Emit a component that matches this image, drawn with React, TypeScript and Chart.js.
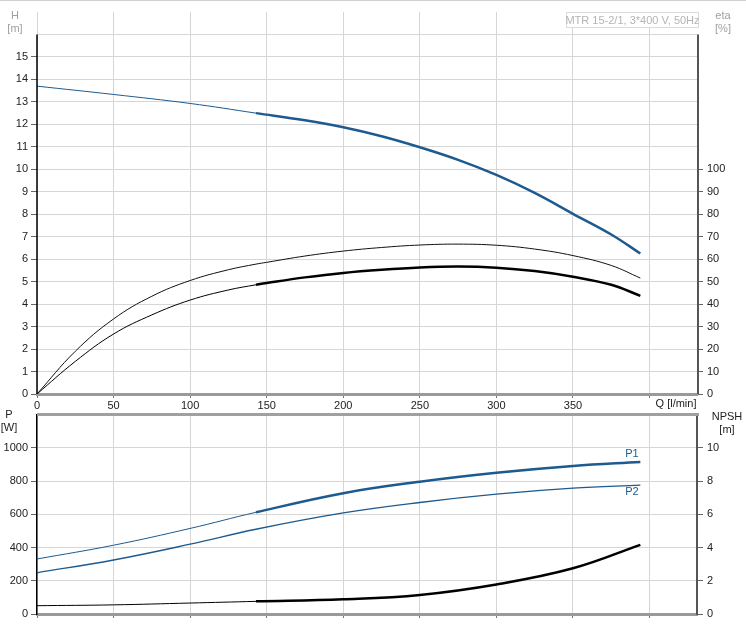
import React, { useEffect, useRef } from "react";
import { Chart, registerables } from "chart.js";

Chart.register(...registerables);

// ---------- Data ----------
const qH = [0, 50, 100, 143, 175, 200, 225, 250, 275, 300, 325, 350, 375, 394];
const headH = [13.7, 13.33, 12.93, 12.5, 12.18, 11.87, 11.47, 10.98, 10.42, 9.75, 8.95, 8.02, 7.1, 6.25];

const qEta = [0, 25, 50, 75, 100, 125, 143, 150, 175, 200, 225, 250, 275, 300, 325, 350, 375, 394];
const etaUpper = [0, 19, 33.4, 43.5, 50.5, 55.3, 57.8, 58.6, 61.4, 63.6, 65.2, 66.3, 66.7, 66.2, 64.5, 61.6, 57.2, 51.6];
const etaLower = [0, 14.5, 26.7, 35.2, 41.8, 46.3, 48.6, 49.4, 51.9, 53.9, 55.3, 56.3, 56.7, 56.2, 54.7, 52.2, 48.6, 43.7];

const qP = [0, 50, 100, 143, 200, 250, 300, 350, 394];
const powerP1 = [331, 414, 515, 612, 727, 796, 850, 891, 915];
const powerP2 = [248, 325, 420, 510, 608, 671, 721, 757, 776];
const npsh = [0.5, 0.55, 0.66, 0.76, 0.89, 1.15, 1.78, 2.75, 4.16];

const xTicks = [0, 50, 100, 150, 200, 250, 300, 350, 400];
const hTicks = [0, 1, 2, 3, 4, 5, 6, 7, 8, 9, 10, 11, 12, 13, 14, 15, 16];
const etaTicks = [0, 10, 20, 30, 40, 50, 60, 70, 80, 90, 100];
const pTicks = [0, 200, 400, 600, 800, 1000, 1200];
const npshTicks = [0, 2, 4, 6, 8, 10, 12];

const titleText = "MTR 15-2/1, 3*400 V, 50Hz";
const BLUE = "#1d5a8f";
const FONT = "'Liberation Sans', Arial, sans-serif";
const THICK_FROM = 143;

const pts = (xs: number[], ys: number[]) => xs.map((x, i) => ({ x, y: ys[i] }));
const seg = (thick: number, thin: number, thickOn: boolean) => ({
  borderWidth: (ctx: any) => (thickOn && ctx.p0.parsed.x >= THICK_FROM - 0.5 ? thick : thin),
});

const tickFont = { family: FONT, size: 11 };

function App() {
  const topRef = useRef<HTMLCanvasElement>(null);
  const botRef = useRef<HTMLCanvasElement>(null);

  useEffect(() => {
    const topPlugin = {
      id: "topDecor",
      afterDraw(chart: any) {
        const { ctx, chartArea, scales } = chart;
        const y16 = scales.y.getPixelForValue(16);
        ctx.save();
        ctx.strokeStyle = "#000";
        ctx.lineWidth = 1.5;
        ctx.beginPath();
        ctx.moveTo(chartArea.left, y16);
        ctx.lineTo(chartArea.left, chartArea.bottom);
        ctx.stroke();
        ctx.strokeStyle = "#555";
        ctx.lineWidth = 2;
        ctx.beginPath();
        ctx.moveTo(chartArea.right + 1, y16);
        ctx.lineTo(chartArea.right + 1, chartArea.bottom);
        ctx.stroke();
        ctx.fillStyle = "#fff";
        ctx.fillRect(566, 13, 133, 15);
        ctx.strokeStyle = "#dcdcdc";
        ctx.lineWidth = 1;
        ctx.strokeRect(566.5, 12.5, 132, 15);
        ctx.font = `11px ${FONT}`;
        ctx.fillStyle = "#b4b4b4";
        ctx.textAlign = "center";
        ctx.textBaseline = "middle";
        ctx.fillText(titleText, 632.5, 20.5);
        ctx.fillStyle = "#a0a0a0";
        ctx.fillText("H", 15, 16);
        ctx.fillText("[m]", 15, 29);
        ctx.fillText("eta", 723, 16);
        ctx.fillText("[%]", 723, 29);
        ctx.fillStyle = "#222";
        ctx.fillText("Q [l/min]", 676, 404);
        ctx.restore();
      },
    };

    const botPlugin = {
      id: "botDecor",
      afterDraw(chart: any) {
        const { ctx, chartArea } = chart;
        ctx.save();
        ctx.strokeStyle = "#a0a0a0";
        ctx.lineWidth = 3;
        ctx.beginPath();
        ctx.moveTo(chartArea.left, chartArea.top);
        ctx.lineTo(chartArea.right + 2, chartArea.top);
        ctx.stroke();
        ctx.font = `11px ${FONT}`;
        ctx.textAlign = "center";
        ctx.textBaseline = "middle";
        ctx.fillStyle = "#222";
        ctx.fillText("P", 9, 415 - 404);
        ctx.fillText("[W]", 9, 428 - 404);
        ctx.fillText("NPSH", 727, 417 - 404);
        ctx.fillText("[m]", 727, 430 - 404);
        ctx.fillStyle = BLUE;
        ctx.fillText("P1", 632, 454 - 404);
        ctx.fillText("P2", 632, 492 - 404);
        ctx.restore();
      },
    };

    const xScaleBase = (showLabels: boolean) => ({
      type: "linear" as const,
      min: 0,
      max: 431,
      afterBuildTicks: (s: any) => {
        s.ticks = xTicks.map((v) => ({ value: v }));
      },
      afterFit: (s: any) => {
        s.height = showLabels ? 18 : 14;
      },
      grid: { color: "#d6d6d6", lineWidth: 1, tickLength: 4, tickColor: "#777" },
      border: { color: "#9a9a9a", width: 3 },
      ticks: {
        display: showLabels,
        autoSkip: false,
        maxRotation: 0,
        padding: 1,
        color: "#222",
        font: tickFont,
        callback: (v: any) => (v <= 350 ? String(v) : ""),
      },
    });

    const lineEl = { point: { radius: 0 }, line: { tension: 0.4, borderWidth: 1 } };

    const top = new Chart(topRef.current!, {
      type: "line",
      data: {
        datasets: [
          { data: pts(qH, headH), yAxisID: "y", borderColor: BLUE, segment: seg(2.5, 1, true) },
          { data: pts(qEta, etaUpper), yAxisID: "eta", borderColor: "#111", segment: seg(1, 1, false) },
          { data: pts(qEta, etaLower), yAxisID: "eta", borderColor: "#000", segment: seg(2.5, 1, true) },
        ] as any,
      },
      options: {
        animation: false,
        responsive: false,
        maintainAspectRatio: false,
        layout: { padding: { top: 12, left: 0, right: 0, bottom: 0 } },
        elements: lineEl as any,
        plugins: { legend: { display: false }, tooltip: { enabled: false } },
        scales: {
          x: xScaleBase(true) as any,
          y: {
            type: "linear",
            position: "left",
            min: 0,
            max: 17,
            afterBuildTicks: (s: any) => {
              s.ticks = hTicks.map((v) => ({ value: v }));
            },
            afterFit: (s: any) => {
              s.width = 37;
            },
            grid: {
              color: "#d6d6d6",
              lineWidth: 1,
              tickLength: 6,
              tickColor: (c: any) => (c.tick && c.tick.value === 16 ? "rgba(0,0,0,0)" : "#666"),
            },
            border: { display: false },
            ticks: {
              autoSkip: false,
              padding: 3,
              color: "#222",
              font: tickFont,
              callback: (v: any) => (v <= 15 ? String(v) : ""),
            },
          },
          eta: {
            type: "linear",
            position: "right",
            min: 0,
            max: 170,
            afterBuildTicks: (s: any) => {
              s.ticks = etaTicks.map((v) => ({ value: v }));
            },
            afterFit: (s: any) => {
              s.width = 49;
            },
            grid: { drawOnChartArea: false, tickLength: 6, tickColor: "#666" },
            border: { display: false },
            ticks: { autoSkip: false, padding: 4, color: "#222", font: tickFont },
          },
        },
      },
      plugins: [topPlugin],
    });

    const bot = new Chart(botRef.current!, {
      type: "line",
      data: {
        datasets: [
          { data: pts(qP, powerP1), yAxisID: "p", borderColor: BLUE, segment: seg(2.5, 1, true) },
          { data: pts(qP, powerP2), yAxisID: "p", borderColor: BLUE, segment: seg(1.3, 1.3, false) },
          { data: pts(qP, npsh), yAxisID: "npsh", borderColor: "#000", segment: seg(2.5, 1, true) },
        ] as any,
      },
      options: {
        animation: false,
        responsive: false,
        maintainAspectRatio: false,
        layout: { padding: { top: 8, left: 0, right: 0, bottom: 0 } },
        elements: lineEl as any,
        plugins: { legend: { display: false }, tooltip: { enabled: false } },
        scales: {
          x: xScaleBase(false) as any,
          p: {
            type: "linear",
            position: "left",
            min: 0,
            max: 1200,
            afterBuildTicks: (s: any) => {
              s.ticks = pTicks.map((v) => ({ value: v }));
            },
            afterFit: (s: any) => {
              s.width = 37;
            },
            grid: {
              color: "#d6d6d6",
              lineWidth: 1,
              tickLength: 6,
              tickColor: (c: any) => (c.tick && c.tick.value === 1200 ? "rgba(0,0,0,0)" : "#666"),
            },
            border: { color: "#000", width: 1.5 },
            ticks: {
              autoSkip: false,
              padding: 3,
              color: "#222",
              font: tickFont,
              callback: (v: any) => (v <= 1000 ? String(v) : ""),
            },
          },
          npsh: {
            type: "linear",
            position: "right",
            min: 0,
            max: 12,
            afterBuildTicks: (s: any) => {
              s.ticks = npshTicks.map((v) => ({ value: v }));
            },
            afterFit: (s: any) => {
              s.width = 49;
            },
            grid: {
              drawOnChartArea: false,
              tickLength: 6,
              tickColor: (c: any) => (c.tick && c.tick.value === 12 ? "rgba(0,0,0,0)" : "#666"),
            },
            border: { color: "#555", width: 2 },
            ticks: {
              autoSkip: false,
              padding: 4,
              color: "#222",
              font: tickFont,
              callback: (v: any) => (v <= 10 ? String(v) : ""),
            },
          },
        },
      },
      plugins: [botPlugin],
    });

    return () => {
      top.destroy();
      bot.destroy();
    };
  }, []);

  return (
    <div style={{ position: "absolute", left: 0, top: 0, width: 746, height: 628, background: "#fff" }}>
      <div style={{ position: "absolute", left: 0, top: 0, width: 746, height: 1, background: "#d0d0d0" }} />
      <canvas ref={topRef} width={746} height={412} style={{ position: "absolute", left: 0, top: 0 }} />
      <canvas ref={botRef} width={746} height={224} style={{ position: "absolute", left: 0, top: 404 }} />
    </div>
  );
}

export default App;
